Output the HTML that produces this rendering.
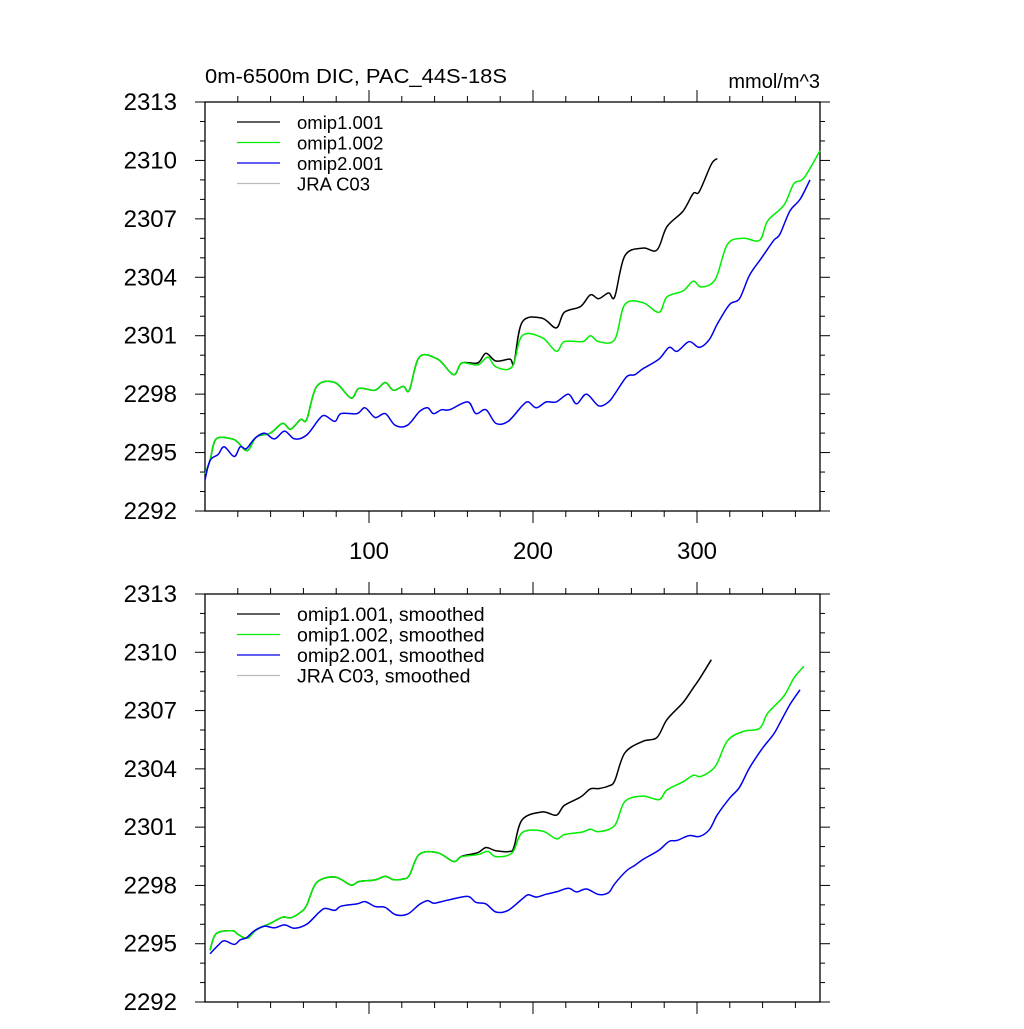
<!DOCTYPE html>
<html><head><meta charset="utf-8"><style>
body{margin:0;background:#fff}
svg text{font-family:"Liberation Sans",sans-serif;fill:#000}
</style></head><body>
<svg id="c" width="1024" height="1024" xmlns="http://www.w3.org/2000/svg">
<text x="205" y="83" font-size="20" textLength="302" lengthAdjust="spacingAndGlyphs">0m-6500m DIC, PAC_44S-18S</text>
<text x="820" y="88" font-size="20" text-anchor="end">mmol/m^3</text>
</svg>
<script>
const yTicks=[2292,2295,2298,2301,2304,2307,2310,2313];
const xTicks=[100,200,300];
const seriesNames=["omip1.001","omip1.002","omip2.001","JRA C03"];
const seriesColors=["#000","#00ee00","#0000ee","#bbb"];
const blackYears=[0,3.1,6.8,16.6,20.3,25.9,31.3,39.9,47.3,52.2,58.3,62,68.1,79.2,89,93.9,103.7,109.9,114.8,120.9,124.6,130.7,141.8,151.6,156.5,166.3,171.3,177.4,186,188.4,193.4,205.6,214.2,219.1,229,235,240,246.1,249.8,256,267,275.6,281.7,291.5,297.7,301.4,308.7,312.4];
const blackVals=[2293.9,2294.6,2295.7,2295.7,2295.5,2295.1,2295.8,2296.0,2296.5,2296.2,2296.7,2296.7,2298.4,2298.6,2297.8,2298.3,2298.2,2298.6,2298.2,2298.4,2298.2,2299.9,2299.8,2299.0,2299.6,2299.6,2300.1,2299.7,2299.8,2299.6,2301.7,2301.9,2301.4,2302.2,2302.5,2303.1,2302.9,2303.2,2303.0,2305.1,2305.5,2305.4,2306.6,2307.4,2308.3,2308.4,2309.8,2310.1];
const greenYears=[0,3.1,6.8,16.6,20.3,25.9,31.3,39.9,47.3,52.2,58.3,62,68.1,79.2,89,93.9,103.7,109.9,114.8,120.9,124.6,130.7,141.8,151.6,156.5,166.3,172.5,177.4,187.2,193.4,205.6,214.2,219.1,230.2,235.1,240,249.8,256,267,276.8,281.7,291.5,297.7,302.6,311.2,318.6,328.4,338.2,343.1,353,359,365.2,375];
const greenVals=[2293.9,2294.6,2295.7,2295.7,2295.5,2295.1,2295.8,2296.0,2296.5,2296.2,2296.7,2296.7,2298.4,2298.6,2297.8,2298.3,2298.2,2298.6,2298.2,2298.4,2298.2,2299.9,2299.8,2299.0,2299.6,2299.5,2299.9,2299.4,2299.4,2301.0,2300.9,2300.2,2300.7,2300.7,2301.0,2300.7,2300.8,2302.6,2302.7,2302.2,2303.0,2303.3,2303.8,2303.5,2303.9,2305.7,2306.0,2305.9,2306.9,2307.7,2308.8,2309.1,2310.5];
const blueYears=[0,3.1,8,11.7,17.8,21.5,25.2,30.1,36.2,42.4,48.5,54.6,62,69.4,73.1,79.2,82.9,92.7,97.6,103.7,109.9,116,123.4,130.7,135.7,139.3,144.3,149.2,160.2,165.1,171.3,177.4,184.8,193.4,197.1,202,208.1,214.2,221.6,226.5,232.6,240,246.1,249.8,257.2,262.1,267,276.8,283,287.9,295.2,301.4,307.5,312.4,319.8,325.9,332,339.4,346.8,350.5,356.6,362.8,368.9];
const blueVals=[2293.6,2294.6,2294.9,2295.3,2294.8,2295.3,2295.2,2295.7,2296.0,2295.7,2296.1,2295.7,2295.9,2296.7,2296.9,2296.6,2297.0,2297.0,2297.3,2296.8,2297.0,2296.4,2296.4,2297.1,2297.3,2297.0,2297.2,2297.2,2297.6,2297.0,2297.2,2296.5,2296.6,2297.4,2297.6,2297.3,2297.6,2297.6,2298.0,2297.5,2298.0,2297.4,2297.6,2298.0,2298.9,2299.0,2299.3,2299.8,2300.4,2300.2,2300.7,2300.4,2300.8,2301.6,2302.6,2302.9,2304.1,2305.0,2305.9,2306.2,2307.4,2308.0,2309.0];
const NS="http://www.w3.org/2000/svg";
const svg=document.getElementById('c');
function mk(t,a,p){const e=document.createElementNS(NS,t);for(const k in a)e.setAttribute(k,a[k]);(p||svg).appendChild(e);return e;}
const X0=205,X1=820,XMAX=375;
function xs(v){return X0+v/XMAX*(X1-X0);}
function smooth(ys,vs){const oy=[],ov=[];for(let i=1;i<ys.length-1;i++){oy.push(ys[i]);ov.push((vs[i-1]+4*vs[i]+vs[i+1])/6);}return [oy,ov];}
function curve(pts){let d='M'+pts[0][0].toFixed(1)+','+pts[0][1].toFixed(1);
  for(let i=0;i<pts.length-1;i++){const p0=pts[Math.max(0,i-1)],p1=pts[i],p2=pts[i+1],p3=pts[Math.min(pts.length-1,i+2)];
    const c1=[p1[0]+(p2[0]-p0[0])/6,p1[1]+(p2[1]-p0[1])/6],c2=[p2[0]-(p3[0]-p1[0])/6,p2[1]-(p3[1]-p1[1])/6];
    d+='C'+c1.map(v=>v.toFixed(1)).join(',')+' '+c2.map(v=>v.toFixed(1)).join(',')+' '+p2[0].toFixed(1)+','+p2[1].toFixed(1);}
  return d;}
function panel(top,bottom,smoothed,suffix,pname,legFont){
  const g=mk('g',{});
  
  
  const ys=v=>bottom-(v-2292)/21*(bottom-top);
  for(let v=2292;v<=2313;v++){
    const maj=(v-2292)%3===0,L=maj?10:5,y=ys(v);
    const t1=mk('line',{x1:X0-L,x2:X0,y1:y,y2:y,stroke:'#000','stroke-width':1},g);
    
    
    mk('line',{x1:X1,x2:X1+L,y1:y,y2:y,stroke:'#000','stroke-width':1},g);
  }
  yTicks.forEach(v=>{const t=mk('text',{x:177,y:ys(v)+8,'font-size':24,'text-anchor':'end'},g);t.textContent=v;
    
    });
  for(let v=20;v<XMAX;v+=20){
    const maj=v%100===0,L=maj?12:6,x=xs(v);
    mk('line',{x1:x,x2:x,y1:top-L,y2:top,stroke:'#000','stroke-width':1},g);
    const t2=mk('line',{x1:x,x2:x,y1:bottom,y2:bottom+L,stroke:'#000','stroke-width':1},g);
    
    
  }
  if(!smoothed) xTicks.forEach(v=>{const t=mk('text',{x:xs(v),y:bottom+48,'font-size':24,'text-anchor':'middle'},g);t.textContent=v;
    
    });
  const fr=mk('rect',{x:X0,y:top,width:X1-X0,height:bottom-top,fill:'none',stroke:'#000','stroke-width':1.3},g);
  
  
  const data=[[blackYears,blackVals],[greenYears,greenVals],[blueYears,blueVals]];
  [0,1,2].forEach(i=>{
    let [yr,vl]=data[i];
    if(smoothed){[yr,vl]=smooth(yr,vl);}
    const pts=yr.map((y,j)=>[xs(y),ys(vl[j])]);
    const p=mk('path',{d:curve(pts),fill:'none',stroke:seriesColors[i],'stroke-width':1.5,'stroke-linejoin':'round'},g);
    
    
  });
  seriesNames.forEach((n,i)=>{
    const y=top+20+i*20.5;
    const l=mk('line',{x1:237,x2:280,y1:y,y2:y,stroke:seriesColors[i],'stroke-width':1.3},g);
    
    
    const t=mk('text',{x:297,y:y+7,'font-size':legFont},g);t.textContent=n+suffix;
    
    
  });
}
panel(102,511,false,'','raw-panel',18.5);
panel(594,1002,true,', smoothed','smoothed-panel',19.5);
</script>
</body></html>
